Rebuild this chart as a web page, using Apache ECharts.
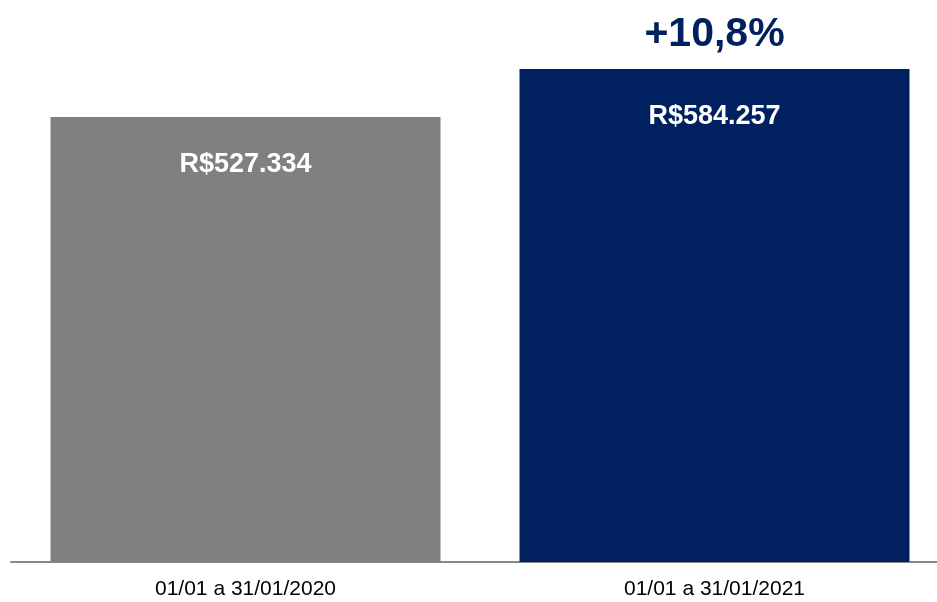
<!DOCTYPE html>
<html>
<head>
<meta charset="utf-8">
<script src="https://cdn.jsdelivr.net/npm/echarts@6/dist/echarts.min.js"></script>
<style>
  html, body { margin: 0; padding: 0; background: #fff; }
  #chart { width: 937px; height: 602px; }
</style>
</head>
<body>
<div id="chart"></div>
<script>
const categories = ['01/01 a 31/01/2020', '01/01 a 31/01/2021'];
const revenue = [527334, 584257];
const valueLabels = ['R$527.334', 'R$584.257'];
const growthLabel = '+10,8%';
const barColors = ['#808080', '#002060'];

const chart = echarts.init(document.getElementById('chart'));

const option = {
  animation: false,
  grid: { left: 11, width: 938, top: 0, bottom: 40, outerBoundsMode: 'none', containLabel: false },
  xAxis: {
    type: 'category',
    data: categories,
    axisTick: { show: false },
    axisLine: { lineStyle: { color: '#888888', width: 2 } },
    axisLabel: {
      color: '#000',
      fontFamily: 'Liberation Sans, Arial, sans-serif',
      fontSize: 21,
      margin: 17
    }
  },
  yAxis: {
    type: 'value',
    min: 0,
    max: 666000,
    show: false,
    splitLine: { show: false }
  },
  series: [
    {
      type: 'bar',
      barWidth: 390,
      data: revenue.map((v, i) => ({
        value: v,
        itemStyle: { color: barColors[i] },
        label: { formatter: valueLabels[i] }
      })),
      label: {
        show: true,
        position: 'insideTop',
        distance: 34,
        color: '#fff',
        fontWeight: 'bold',
        fontFamily: 'Liberation Sans, Arial, sans-serif',
        fontSize: 27
      }
    },
    {
      // invisible twin of the 2021 bar, only carries the growth label
      type: 'bar',
      barWidth: 390,
      barGap: '-100%',
      silent: true,
      itemStyle: { color: 'rgba(0,0,0,0)' },
      data: ['-', revenue[1]],
      label: {
        show: true,
        position: 'top',
        distance: 14,
        formatter: growthLabel,
        color: '#002060',
        fontWeight: 'bold',
        fontFamily: 'Liberation Sans, Arial, sans-serif',
        fontSize: 41
      }
    }
  ]
};

chart.setOption(option);
</script>
</body>
</html>
